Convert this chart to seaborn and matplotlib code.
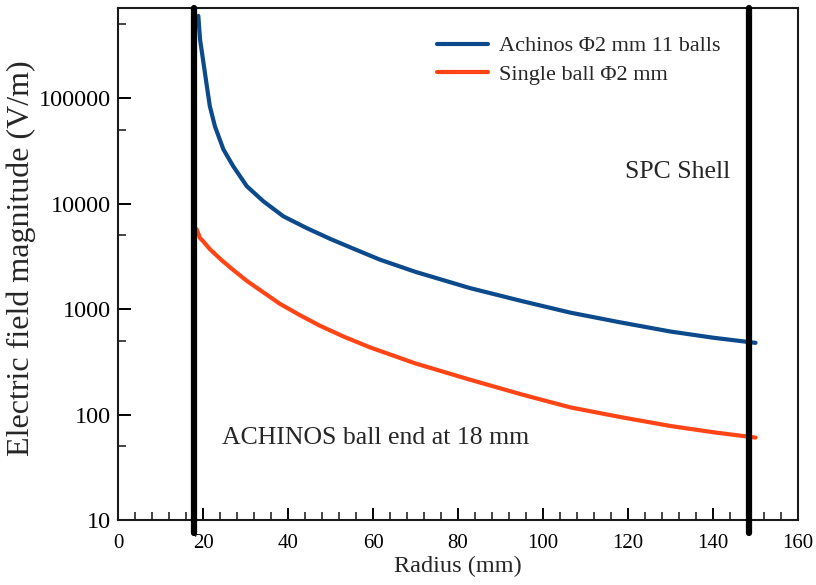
import numpy as np
import pandas as pd
import matplotlib
matplotlib.use("Agg")
import matplotlib.pyplot as plt
import matplotlib.ticker as mticker
import matplotlib.transforms as mtransforms
import seaborn as sns

# Electric field magnitude vs radius (mm, V/m)
radius_achinos = [18.9, 19.3, 20.1, 20.9, 21.6, 22.8, 24.8, 27.1, 30.3, 34.2, 38.9, 44.4,
                  50.0, 55.0, 61.6, 70.0, 82.8, 95.0, 106.4, 118.0, 129.9, 140.0, 150.0]
field_achinos = [600000, 360000, 217000, 130000, 84000, 54000, 32600, 22600, 14600, 10500,
                 7570, 5850, 4610, 3790, 2940, 2250, 1580, 1190, 925, 750, 613, 535, 478]

radius_single = [18.5, 19.3, 19.9, 21.6, 24.4, 27.1, 30.3, 34.2, 38.1, 42.8, 47.5, 53.0,
                 59.3, 70.0, 82.8, 95.0, 106.4, 118.0, 129.9, 140.0, 150.0]
field_single = [5700, 4700, 4450, 3700, 2900, 2350, 1850, 1440, 1120, 875, 695, 550,
                433, 305, 214, 155, 117, 95, 78, 68, 60.5]

series_names = ["Achinos \u03a62 mm 11 balls", "Single ball \u03a62 mm"]
series_colors = ["#0c4a8c", "#ff4516"]

ball_end = 18.0
shell_radius = 148.5

x_ticks = [0, 20, 40, 60, 80, 100, 120, 140, 160]
y_ticks = [10, 100, 1000, 10000, 100000]
y_tick_labels = ["10", "100", "1000", "10000", "100000"]

df = pd.concat([
    pd.DataFrame({"radius": radius_achinos, "field": field_achinos, "series": series_names[0]}),
    pd.DataFrame({"radius": radius_single, "field": field_single, "series": series_names[1]}),
], ignore_index=True)

sns.set_style("ticks")
plt.rcParams["font.family"] = ["Liberation Serif", "DejaVu Serif"]

fig = plt.figure(figsize=(8.16, 5.85), dpi=100)
ax = fig.add_axes([0.1446, 0.111, 0.8334, 0.875])

sns.lineplot(data=df, x="radius", y="field", hue="series", hue_order=series_names,
             palette=series_colors, linewidth=3, ax=ax, sort=True, estimator=None)

ax.set_yscale("log")
ax.set_xlim(0, 160)
ax.set_ylim(10, 710000)

ax.set_xticks(x_ticks)
ax.xaxis.set_minor_locator(mticker.MultipleLocator(4))
ax.set_yticks(y_ticks)
ax.set_yticklabels(y_tick_labels)
ax.yaxis.set_minor_locator(mticker.LogLocator(base=10, subs=[5.0], numticks=20))
ax.yaxis.set_minor_formatter(mticker.NullFormatter())

ax.tick_params(axis="both", which="major", direction="in", length=9, width=1.4,
               colors="black")
ax.tick_params(axis="x", which="major", labelsize=15, pad=10)
ax.tick_params(axis="y", which="major", labelsize=17.5, pad=5)
ax.tick_params(axis="both", which="minor", direction="in", length=5.5, width=1.2)
ax.tick_params(top=False, right=False, which="both")

for s in ax.spines.values():
    s.set_linewidth(1.5)
    s.set_color("#1a1a1a")

# Boundaries: ball end and shell
trans = mtransforms.blended_transform_factory(ax.transData, ax.transAxes)
for xv in (ball_end, shell_radius):
    ax.plot([xv, xv], [-0.025, 1.0], transform=trans, color="black", linewidth=4.5,
            solid_capstyle="round", clip_on=False, zorder=5)

ax.set_xlabel("Radius (mm)", fontsize=17.5, labelpad=2)
ax.set_ylabel("Electric field magnitude (V/m)", fontsize=23)
ax.yaxis.set_label_coords(-0.121, 0.512)

ax.text(0.746, 0.68, "SPC Shell", transform=ax.transAxes, fontsize=18.5,
        ha="left", va="center")
ax.text(0.153, 0.16, "ACHINOS ball end at 18 mm", transform=ax.transAxes, fontsize=18.5,
        ha="left", va="center")

leg = ax.legend(loc="upper left", bbox_to_anchor=(0.44, 0.985), frameon=False,
                fontsize=16, handlelength=2.3, handletextpad=0.5, labelspacing=0.35)
for line in leg.get_lines():
    line.set_linewidth(3)

fig.savefig("out.png", dpi=100)
